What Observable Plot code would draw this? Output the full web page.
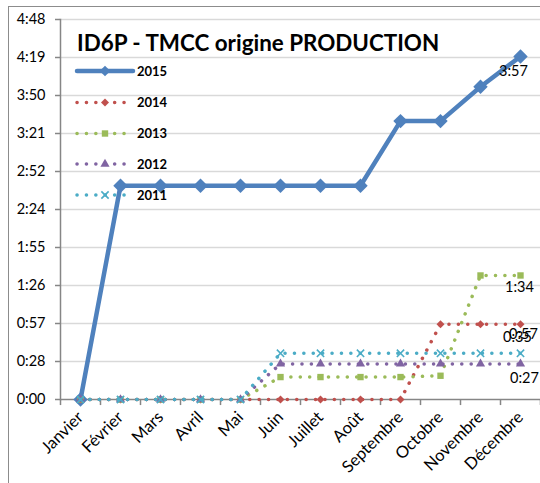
<!DOCTYPE html>
<html><head><meta charset="utf-8">
<script src="https://cdn.jsdelivr.net/npm/d3@7"></script>
<script src="https://cdn.jsdelivr.net/npm/@observablehq/plot@0.6"></script>
<style>
body{margin:0;background:#fff;font-family:Lato,sans-serif}
#chart{position:relative;width:540px;height:483px;overflow:hidden}
#border{position:absolute;left:8px;top:6px;width:600px;height:600px;border-top:1.5px solid #8c8c8c;border-left:1.5px solid #8c8c8c;box-sizing:border-box}
#chart svg{position:absolute;left:0;top:0}
</style>
</head><body><div id="chart"><div id="border"></div></div>
<script>
const months = ["Janvier","Février","Mars","Avril","Mai","Juin","Juillet","Août","Septembre","Octobre","Novembre","Décembre"];
const years = ["2015","2014","2013","2012","2011"];
// values in minutes
const v2015 = [0,162,162,162,162,162,162,162,211,211,237,260];
const v2014 = [0,0,0,0,0,0,0,0,0,57,57,57];
const v2013 = [0,0,0,0,0,17,17,17,17,18,94,94];
const v2012 = [0,0,0,0,0,27,27,27,27,27,27,27];
const v2011 = [0,0,0,0,0,35,35,35,35,35,35,35];
const endLabels = ["3:57","0:57","1:34","0:27","0:35"];
const yTicks = [0,28.8,57.6,86.4,115.2,144,172.8,201.6,230.4,259.2,288];
const title = "ID6P - TMCC origine PRODUCTION";

const values = [v2015,v2014,v2013,v2012,v2011];
const colors = ["#4F81BD","#C0504D","#9BBB59","#8064A2","#4BACC6"];
const symbols = ["diamond2","diamond2","square","triangle","times"];
const styles = [
  {w:4.5, dash:null, r:6.5},
  {w:3.5, dash:"0.1 9.3", r:3.6},
  {w:3.5, dash:"0.1 9.3", r:3.6},
  {w:3.5, dash:"0.1 9.3", r:3.4},
  {w:3.5, dash:"0.1 9.3", r:3.4}
];
const labelOff = [{dx:-7,dy:15},{dx:3,dy:10},{dx:-1,dy:12},{dx:4,dy:14},{dx:-3,dy:-16}];

const fmt = m => { const t = Math.floor(m + 1e-6); return Math.floor(t/60) + ":" + String(t%60).padStart(2,"0"); };

const seriesMarks = years.flatMap((yr, k) => {
  const data = months.map((m, i) => ({month: m, value: values[k][i]}));
  const s = styles[k];
  const marks = [
    Plot.line(data, {x:"month", y:"value", stroke: colors[k], strokeWidth: s.w,
      strokeDasharray: s.dash, strokeLinecap: "round", strokeLinejoin: "round"}),
    Plot.dot(data, symbols[k] === "times"
      ? {x:"month", y:"value", symbol: "times", r: s.r, stroke: colors[k], strokeWidth: 1.6}
      : {x:"month", y:"value", symbol: symbols[k], r: s.r, fill: colors[k], stroke: "none"}),
  ];
  marks.push(Plot.text([data[data.length-1]], {x:"month", y:"value", text: () => endLabels[k],
    dx: labelOff[k].dx, dy: labelOff[k].dy, fontSize: 14.5, fill: "#000", fontFamily: "Lato"}));
  return marks;
});

const chart = Plot.plot({
  width: 540, height: 483,
  marginLeft: 60, marginRight: 0, marginTop: 19, marginBottom: 84,
  style: {fontFamily: "Lato", background: "transparent", color: "#000"},
  x: {type: "point", domain: months, padding: 0.5, label: null},
  y: {domain: [0, 288], label: null},
  marks: [
    Plot.ruleY(yTicks.slice(1), {stroke: "#d9d9d9", strokeWidth: 1.3}),
    Plot.axisY({ticks: yTicks, tickFormat: fmt, tickSize: 5, tickPadding: 10, fontSize: 14.5, stroke: "#868686", strokeWidth: 1.5, label: null}),
    Plot.axisX({tickRotate: -45, tickSize: 0, tickPadding: 15, fontSize: 16.5, label: null}),
    Plot.ruleX(months, {x: d => d, dx: -20, y1: 0, y2: -4.6, stroke: "#868686", strokeWidth: 1.5}),
    Plot.ruleX([months[months.length-1]], {x: d => d, dx: 20, y1: 0, y2: -4.6, stroke: "#868686", strokeWidth: 1.5}),
    Plot.frame({anchor: "left", stroke: "#868686", strokeWidth: 1.5}),
    Plot.ruleY([0], {stroke: "#868686", strokeWidth: 1.5}),
    ...seriesMarks
  ]
});
document.getElementById("chart").appendChild(chart);

const svg = d3.select(chart);
svg.selectAll('g[aria-label="x-axis tick label"]').attr("font-size", 16.5).selectAll("text").attr("font-size", 16.5);

// title and in-plot legend
svg.append("text").attr("x", 77).attr("y", 51).attr("text-anchor", "start").attr("font-family", "Lato").attr("font-weight", "bold")
  .attr("font-size", 22.4).attr("fill", "#000").text(title);
const legY = [71, 102.5, 133.5, 164, 195];
const symMap = {diamond2: d3.symbolDiamond2, square: d3.symbolSquare, triangle: d3.symbolTriangle, times: d3.symbolTimes};
years.forEach((yr, k) => {
  const g = svg.append("g").attr("transform", `translate(0,${legY[k]})`);
  const s = styles[k];
  g.append("line").attr("x1", 77).attr("x2", 133).attr("y1", 0).attr("y2", 0)
    .attr("stroke", colors[k]).attr("stroke-width", s.w).attr("stroke-linecap", "round")
    .attr("stroke-dasharray", s.dash);
  const p = d3.symbol(symMap[symbols[k]], Math.PI * s.r * s.r * (k === 0 ? 0.55 : 1))();
  const path = g.append("path").attr("d", p).attr("transform", "translate(105,0)");
  if (symbols[k] === "times") path.attr("fill", "none").attr("stroke", colors[k]).attr("stroke-width", 1.6);
  else path.attr("fill", colors[k]);
  g.append("text").attr("x", 137).attr("y", 0).attr("dy", "0.35em").attr("text-anchor", "start").attr("font-family", "Lato")
    .attr("font-weight", "bold").attr("font-size", 13).attr("fill", "#000").text(yr);
});
</script>
</body></html>
